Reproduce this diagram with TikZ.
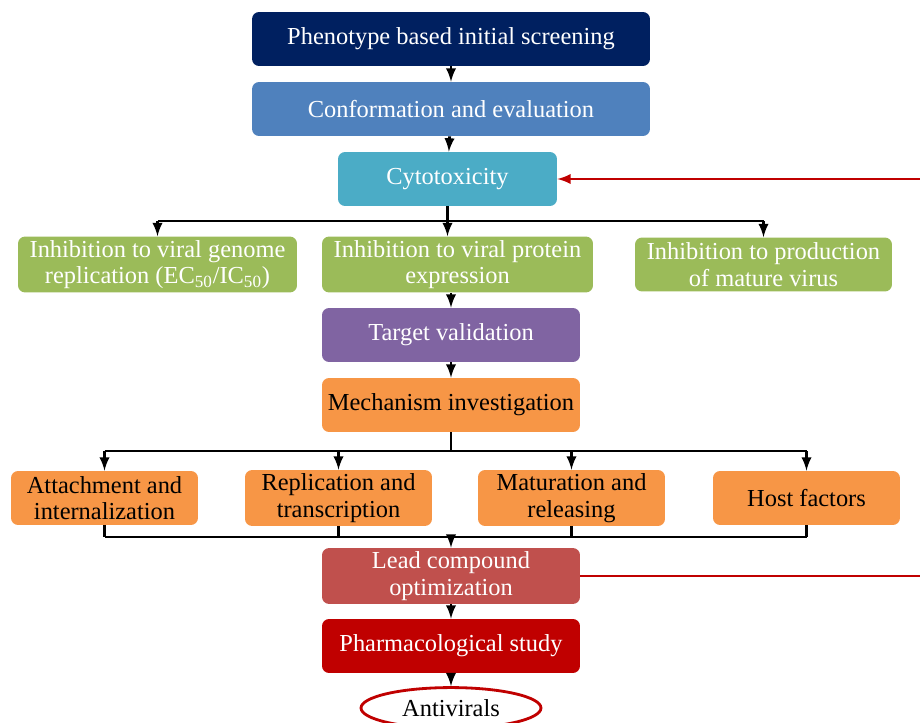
\documentclass[tikz,border=0pt]{standalone}
\usepackage{fontspec}
\setmainfont{Liberation Serif}
\usetikzlibrary{shapes.geometric}

\definecolor{phencol}{HTML}{002060}
\definecolor{confcol}{HTML}{4F81BD}
\definecolor{cytocol}{HTML}{4BACC6}
\definecolor{inhcol}{HTML}{9BBB59}
\definecolor{targcol}{HTML}{8064A2}
\definecolor{mechcol}{HTML}{F79646}
\definecolor{leadcol}{HTML}{C0504D}
\definecolor{pharmcol}{HTML}{C00000}

\tikzset{
    box/.style={rounded corners=4pt, align=center, text=white, minimum height=1.08cm,
        inner sep=2pt, font=\fontsize{13.9}{15.2}\selectfont},
    darkbox/.style={box, text=black},
    conn/.style={line width=1.6pt, -latex},
    joint/.style={line width=1.6pt},
    back/.style={line width=1.6pt, draw=pharmcol, -latex}
}

\begin{document}
\begin{tikzpicture}[x=0.02cm, y=-0.02cm]
            \useasboundingbox (0,0) rectangle (920,723);

            \node[box, fill=phencol, minimum width=7.96cm] (phen) at (451, 39){Phenotype based initial screening};
            \node[box, fill=confcol, minimum width=7.96cm] (conf) at (451, 109){Conformation and evaluation};
            \node[box, fill=cytocol, minimum width=4.38cm] (cyto) at (447.5, 179){Cytotoxicity};

            \node[box, fill=inhcol, minimum width=5.58cm] (g1) at (157.5, 264.5){Inhibition to viral genome\\replication (EC\textsubscript{50}/IC\textsubscript{50})};
            \node[box, fill=inhcol, minimum width=5.42cm] (g2) at (457.5, 264.5){Inhibition to viral protein\\expression};
            \node[box, fill=inhcol, minimum width=5.14cm] (g3) at (763.5, 264.5){Inhibition to production\\of mature virus};

            \node[box, fill=targcol, minimum width=5.16cm] (targ) at (451, 335){Target validation};
            \node[darkbox, fill=mechcol, minimum width=5.16cm] (mech) at (451, 405){Mechanism investigation};

            \foreach \x / \n / \t in {104.5/a1/{Attachment and\\internalization}, 338.5/a2/{Replication and\\transcription},
                571.5/a3/{Maturation and\\releasing}, 806.5/a4/{Host factors}}
                {
                    \node[darkbox, fill=mechcol, minimum width=3.74cm] (\n) at (\x, 498){\t};
                }

            \node[box, fill=leadcol, minimum width=5.16cm] (lead) at (451, 576){Lead compound\\optimization};
            \node[box, fill=pharmcol, minimum width=5.16cm] (pharm) at (451, 646){Pharmacological study};
            \node[ellipse, draw=pharmcol, line width=1.6pt, fill=white, minimum width=3.6cm, minimum height=0.74cm,
                font=\fontsize{13.9}{15.2}\selectfont] (anti) at (451, 708){Antivirals};

            \draw[conn] (phen) -- (conf);
            \draw[conn] (conf) -- (cyto);

            \coordinate (s1) at (447.5, 221);
            \draw[joint] (cyto.south) -- (s1);
            \draw[joint] (g1.north |- s1) -- (g3.north |- s1);
            \draw[conn] (g1.north |- s1) -- (g1.north);
            \draw[conn] (s1) -- (s1 |- g2.north);
            \draw[conn] (g3.north |- s1) -- (g3.north);

            \draw[conn] (targ.north |- g2.south) -- (targ);
            \draw[conn] (targ) -- (mech);

            \coordinate (s2) at (451, 451);
            \coordinate (s3) at (451, 537);
            \draw[joint] (mech) -- (s2);
            \draw[joint] (a1.north |- s2) -- (a4.north |- s2);
            \draw[joint] (a1.south |- s3) -- (a4.south |- s3);
            \foreach \n in {a1,a2,a3,a4}
                {
                    \draw[conn] (\n.north |- s2) -- (\n.north);
                    \draw[joint] (\n.south) -- (\n.south |- s3);
                }
            \draw[conn] (s3) -- (lead);
            \draw[conn] (lead) -- (pharm);
            \draw[conn] (pharm) -- (anti);

            \draw[back] (lead.east) -- ++(345, 0) |- (cyto.east);

        \end{tikzpicture}
\end{document}
